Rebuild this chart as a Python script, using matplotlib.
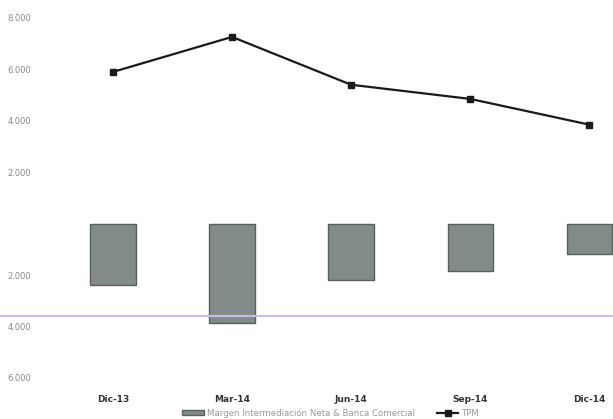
import matplotlib
matplotlib.use("Agg")
import matplotlib.pyplot as plt
from matplotlib.ticker import FuncFormatter
from matplotlib.lines import Line2D

categories = ["Dic-13", "Mar-14", "Jun-14", "Sep-14", "Dic-14"]
bar_values = [-2370, -3850, -2210, -1830, -1170]
line_values = [5900, 7260, 5400, 4850, 3850]
yticks = [8000, 6000, 4000, 2000, -2000, -4000, -6000]
ref_level = -3610
bar_label = "Margen Intermediación Neta & Banca Comercial"
line_label = "TPM"

fig = plt.figure(figsize=(6.13, 4.19), dpi=100)
ax = fig.add_axes([0.0873, 0.098, 0.9127, 0.89])

x = list(range(len(categories)))
bars = ax.bar(x, bar_values, width=0.38, color="#818b88", edgecolor="#5a605e",
              linewidth=1.0, label=bar_label, zorder=2)
line, = ax.plot(x, line_values, color="#1a1a1a", linewidth=1.6, marker="s",
                markersize=4, label=line_label, zorder=3)

ax.set_xlim(-0.5, 4.2)
ax.set_ylim(-6000, 8500)

# reference line spanning the full figure width
y_disp = ax.transData.transform((0, ref_level))[1]
y_fig = fig.transFigure.inverted().transform((0, y_disp))[1]
fig.add_artist(Line2D([0, 1], [y_fig, y_fig], transform=fig.transFigure,
                      color="#c9bde6", linewidth=1.6, zorder=1))

ax.set_xticks(x)
ax.set_xticklabels(categories, fontsize=6.5, fontweight="bold", color="#333333")
ax.set_yticks(yticks)
ax.yaxis.set_major_formatter(FuncFormatter(lambda v, p: f"{int(v):,}".replace(",", ".").replace("-", "")))
ax.tick_params(axis="y", labelsize=6, labelcolor="#8a8a8a", length=0, pad=16)
ax.tick_params(axis="x", length=0, pad=12)
for s in ax.spines.values():
    s.set_visible(False)

leg = fig.legend([bars, line], [bar_label, line_label], loc="lower center",
                 bbox_to_anchor=(0.54, -0.015), ncol=2,
                 frameon=False, fontsize=6.2, handlelength=2.5, handleheight=0.5,
                 columnspacing=2.5, handletextpad=0.4)
for t in leg.get_texts():
    t.set_color("#9a9a9a")

fig.savefig("out.png", dpi=100)
